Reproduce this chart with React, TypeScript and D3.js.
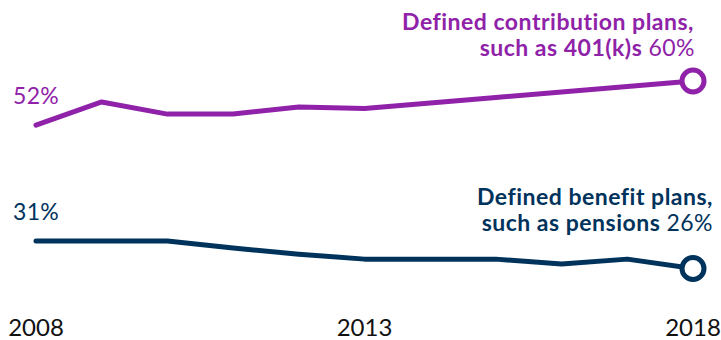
import React from "react";
import * as d3 from "d3";

const years = [2008, 2009, 2010, 2011, 2012, 2013, 2014, 2015, 2016, 2017, 2018];
const dcValues = [52, 56.2, 54, 54, 55.3, 55, 56, 57, 58, 59, 60];
const dbValues = [31, 31, 31, 29.7, 28.6, 27.7, 27.7, 27.7, 26.8, 27.7, 26];
const tickYears = [2008, 2013, 2018];

const PURPLE = "#8F22A8";
const NAVY = "#00335C";
const FONT = "Lato, 'Open Sans', sans-serif";

export default function App() {
  const W = 721, H = 340;
  const x = d3.scaleLinear().domain([2008, 2018]).range([36, 693]);
  const y = d3.scaleLinear().domain([26, 60]).range([268.5, 81]);
  const line = d3.line<number>().x((_, i) => x(years[i])).y((d) => y(d));
  const last = years.length - 1;

  return (
    <svg width={W} height={H} style={{ position: "absolute", left: 0, top: 0 }} fontFamily={FONT}>
      <path d={line(dcValues) || ""} fill="none" stroke={PURPLE} strokeWidth={5} strokeLinecap="round" strokeLinejoin="round" />
      <path d={line(dbValues) || ""} fill="none" stroke={NAVY} strokeWidth={5} strokeLinecap="round" strokeLinejoin="round" />
      <circle cx={x(years[last])} cy={y(dcValues[last])} r={11} fill="#fff" stroke={PURPLE} strokeWidth={5} />
      <circle cx={x(years[last])} cy={y(dbValues[last])} r={11} fill="#fff" stroke={NAVY} strokeWidth={5} />

      <text x={13} y={104} fill={PURPLE} fontSize={23} fontWeight={400} letterSpacing={0.3}>{`${dcValues[0]}%`}</text>
      <text x={13} y={220} fill={NAVY} fontSize={23} fontWeight={400} letterSpacing={0.3}>{`${dbValues[0]}%`}</text>

      <text x={694} y={30} textAnchor="end" fill={PURPLE} fontSize={23} fontWeight={700} letterSpacing={0.5}>Defined contribution plans,</text>
      <text x={695} y={56} textAnchor="end" fill={PURPLE} fontSize={23} letterSpacing={0.5}>
        <tspan fontWeight={700}>such as 401(k)s </tspan>
        <tspan fontWeight={400}>{`${dcValues[last]}%`}</tspan>
      </text>

      <text x={713} y={205} textAnchor="end" fill={NAVY} fontSize={23} fontWeight={700} letterSpacing={0.5}>Defined benefit plans,</text>
      <text x={713} y={231} textAnchor="end" fill={NAVY} fontSize={23} letterSpacing={0.5}>
        <tspan fontWeight={700}>such as pensions </tspan>
        <tspan fontWeight={400}>{`${dbValues[last]}%`}</tspan>
      </text>

      {tickYears.map((t) => (
        <text key={t} x={x(t)} y={336} textAnchor="middle" fill="#111" fontSize={24} fontWeight={400}>{t}</text>
      ))}
    </svg>
  );
}
